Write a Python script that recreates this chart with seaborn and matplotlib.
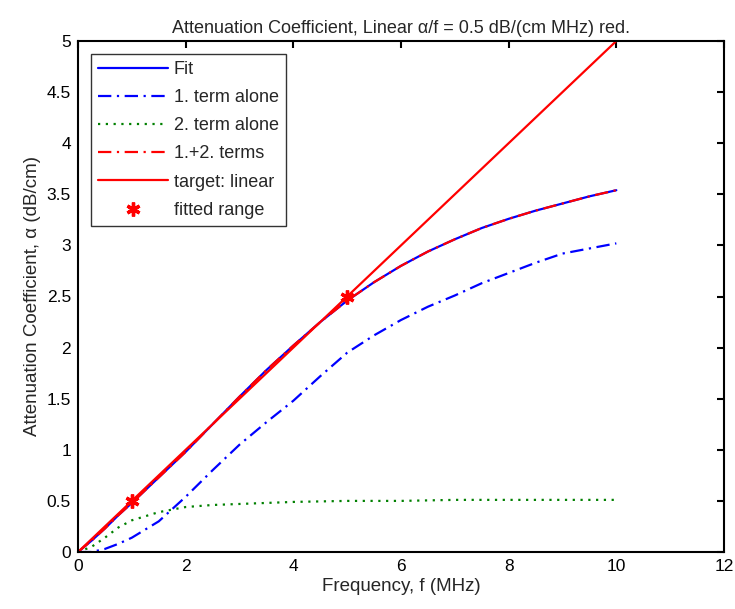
import numpy as np
import pandas as pd
import matplotlib
matplotlib.use("Agg")
import matplotlib.pyplot as plt
import seaborn as sns
from matplotlib.ticker import FormatStrFormatter, MultipleLocator

# ---- data ----
freq = [0, 0.25, 0.5, 0.75, 1, 1.5, 2, 2.5, 3, 3.5, 4, 4.5, 5, 5.5, 6, 6.5, 7, 7.5, 8, 8.5, 9, 9.5, 10]
fit = [0, 0.11, 0.23, 0.36, 0.48, 0.73, 0.98, 1.25, 1.52, 1.78, 2.02, 2.25, 2.46, 2.64, 2.80, 2.94, 3.06, 3.17, 3.26, 3.34, 3.41, 3.48, 3.54]
term1 = [0, 0.0, 0.03, 0.08, 0.14, 0.30, 0.54, 0.80, 1.05, 1.27, 1.48, 1.72, 1.95, 2.12, 2.27, 2.40, 2.51, 2.63, 2.73, 2.83, 2.92, 2.97, 3.02]
term2 = [0, 0.05, 0.14, 0.24, 0.31, 0.39, 0.44, 0.46, 0.47, 0.48, 0.49, 0.495, 0.50, 0.50, 0.50, 0.505, 0.51, 0.51, 0.51, 0.51, 0.51, 0.51, 0.51]
sum12 = fit  # 1.+2. terms coincides with the fit
linear_f = [0, 10]
linear_a = [0, 5]
fitted_f = [1, 5]
fitted_a = [0.5, 2.5]

sns.set_style("white")
plt.rcParams["font.family"] = ["Liberation Sans", "DejaVu Sans"]

df = pd.DataFrame({"f": freq, "fit": fit, "t1": term1, "t2": term2, "sum": sum12})

fig = plt.figure(figsize=(7.35, 6.09), dpi=100)
ax = fig.add_axes([78 / 735, 1 - 552 / 609, (724 - 78) / 735, (552 - 41) / 609])

lw = 1.6
dashdot = (6, 2.5, 1, 2.5)
sns.lineplot(data=df, x="f", y="fit", ax=ax, color="#0000ff", lw=lw, label="Fit")
sns.lineplot(data=df, x="f", y="t1", ax=ax, color="#0000ff", lw=lw, label="1. term alone")
ax.lines[-1].set_dashes(dashdot)
sns.lineplot(data=df, x="f", y="t2", ax=ax, color="#008000", lw=lw, label="2. term alone")
ax.lines[-1].set_dashes((1, 2.5))
sns.lineplot(data=df, x="f", y="sum", ax=ax, color="#ff0000", lw=lw, label="1.+2. terms")
ax.lines[-1].set_dashes(dashdot)
sns.lineplot(x=linear_f, y=linear_a, ax=ax, color="#ff0000", lw=lw, label="target: linear")
ax.plot(fitted_f, fitted_a, linestyle="none", marker=(6, 2, 0), markersize=10,
        markeredgewidth=2.4, color="#ff0000", label="fitted range")

ax.set_xlim(0, 12)
ax.set_ylim(0, 5)
ax.xaxis.set_major_locator(MultipleLocator(2))
ax.yaxis.set_major_locator(MultipleLocator(0.5))
ax.yaxis.set_major_formatter(FormatStrFormatter("%g"))
ax.xaxis.set_major_formatter(FormatStrFormatter("%g"))
ax.tick_params(direction="in", length=5, width=1.5, top=True, right=True,
               labelsize=12.5, colors="black", pad=5)
for s in ax.spines.values():
    s.set_linewidth(1.5)
    s.set_color("black")

ax.set_xlabel("Frequency, f (MHz)", fontsize=13.5, labelpad=3)
ax.set_ylabel("Attenuation Coefficient, α (dB/cm)", fontsize=13.5, labelpad=4)
ax.set_title("Attenuation Coefficient, Linear α/f = 0.5 dB/(cm MHz) red.", fontsize=13, pad=6)

leg = ax.legend(loc="upper left", fontsize=13, frameon=True, fancybox=False,
                edgecolor="black", borderaxespad=0.7, handlelength=3.9,
                labelspacing=0.62, handletextpad=0.3, borderpad=0.4)
leg.get_frame().set_linewidth(1.0)

fig.savefig("out.png", dpi=100)
